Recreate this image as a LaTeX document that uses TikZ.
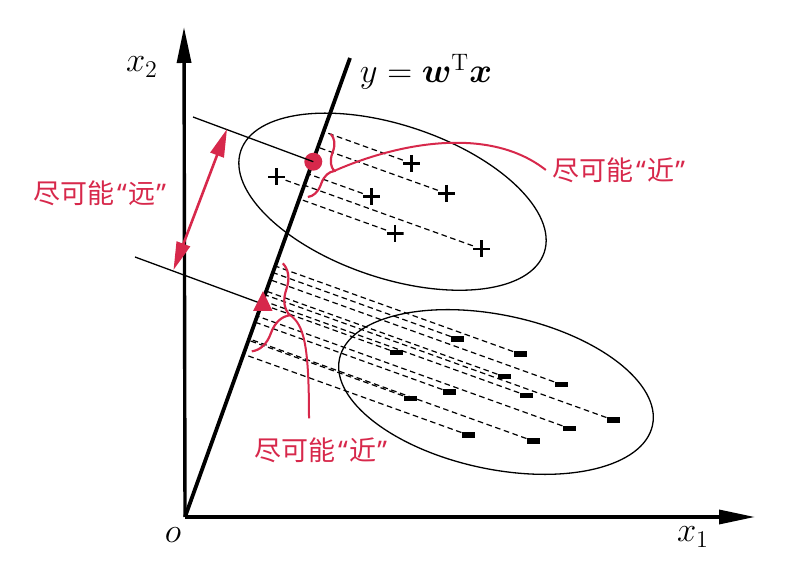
\documentclass[tikz,border=0pt]{standalone}
\usepackage{fontspec}
\usepackage{bm}
\newfontfamily\cjkfont{Noto Sans CJK SC}
\newfontfamily\quotefont{Noto Sans}
\newcommand\cjkquote[1]{\kern.08em{\quotefont“}\kern.05em#1\kern.05em{\quotefont”}}
\usetikzlibrary{calc}
\usetikzlibrary{arrows.meta}
\usetikzlibrary{decorations.pathreplacing}
\definecolor{hlred}{RGB}{215,40,75}

\begin{document}
\begin{tikzpicture}[x=0.5pt, y=-0.5pt, font=\fontsize{17}{20}\selectfont]
\tikzset{axis/.style={line width=1.7pt,-{Triangle[length=18pt,width=7pt]}},
  thinline/.style={line width=0.65pt},
  proj/.style={dash pattern=on 2.8pt off 1.8pt, line width=0.6pt},
  plus/.style={inner sep=0, minimum size=8.5pt, path picture={
    \draw[line width=1.3pt] (path picture bounding box.north) -- (path picture bounding box.south)
      (path picture bounding box.west) -- (path picture bounding box.east);}},
  minus/.style={fill=black, inner sep=0, minimum width=6.5pt, minimum height=2.6pt},
  note/.style={text=hlred, font=\cjkfont\fontsize{13.5}{16}\selectfont},
  redbrace/.style 2 args={hlred, line width=1.1pt, decorate, decoration={brace, amplitude=#1, raise=#2}},
  redline/.style={hlred, line width=1pt}}
\useasboundingbox (0,0) rectangle (793,571);

% axes and the line y = w^T x
\coordinate (o) at (185,517);
\coordinate (x1end) at (755,517);
\coordinate (x2end) at (184,27);
\coordinate (w) at (350,58);

% the two classes
\draw[thinline, rotate around={-18.5:(392.5,201.7)}] (392.5,201.7) ellipse [x radius=160, y radius=76.5];
\draw[thinline, rotate around={-12:(496,392)}] (496,392) ellipse [x radius=160, y radius=77];

\draw[axis] (o) -- (x1end);
\draw[axis] (o) -- (x2end);
\draw[line width=1.9pt] (o) -- (w);

\node (lx2) at (142,67) {$x_2$};
\node (lo) at (173,535) {$o$};
\node (lx1) at (693,537) {$x_1$};
\node (lw) at (426,72) {$y=\bm{w}^{\mathrm{T}}\bm{x}$};

% positive samples and their projections
\foreach \px/\py [count=\i] in {411.7/163.3, 446.7/193.5, 371.7/196.7, 395/233.3, 481.7/249, 276.7/177}
{
  \node[plus] (p\i) at (\px,\py) {};
  \draw[proj] (p\i) -- ($(o)!(p\i)!(w)$);
}

% negative samples and their projections
\foreach \px/\py [count=\i] in {457.7/339, 396.7/352.7, 520/354, 504.3/376.7, 561/384.3, 449.3/392,
  526/395.3, 410/398.3, 613.3/420, 569.3/428.3, 468.3/435, 533.3/441}
{
  \node[minus] (n\i) at (\px,\py) {};
  \draw[proj] (n\i) -- ($(o)!(n\i)!(w)$);
}

% projected centres
\coordinate (l1) at (193,117);
\coordinate (l2) at (135,257);
\coordinate (m2) at (262.5,304);
\node[circle, fill=hlred, inner sep=0, minimum size=9pt] (m1) at (313.3,161.7) {};
\draw[thinline] (l1) -- (m1.center);
\draw[thinline] (l2) -- (m2);
\fill[hlred] (263,291) -- (253,311) -- (272.5,311) -- cycle;

% far between the classes
\coordinate (a1) at (173.5,270);
\coordinate (a2) at (227,129);
\draw[hlred, line width=1.3pt, {Triangle[length=14pt,width=7pt]}-{Triangle[length=14pt,width=7pt]}] (a1) -- (a2);
\node[note] (far) at (100,193) {尽可能\cjkquote{远}};

% near within each class
\draw[redbrace={8pt}{1.5pt}] (328,133) -- (305,196);
\draw[redbrace={12pt}{2pt}] (279,262) -- (248,350);
\coordinate (b1) at (334,171);
\coordinate (b2) at (290,315);
\node[note] (near1) at (619,170) {尽可能\cjkquote{近}};
\node[note] (near2) at (321,450) {尽可能\cjkquote{近}};
\draw[redline] (b1) .. controls (400,142) and (490,126) .. (near1.west);
\draw[redline] (b2) .. controls (304,325) and (309,345) .. ($(near2.north)+(-12,-12)$);

\end{tikzpicture}
\end{document}
